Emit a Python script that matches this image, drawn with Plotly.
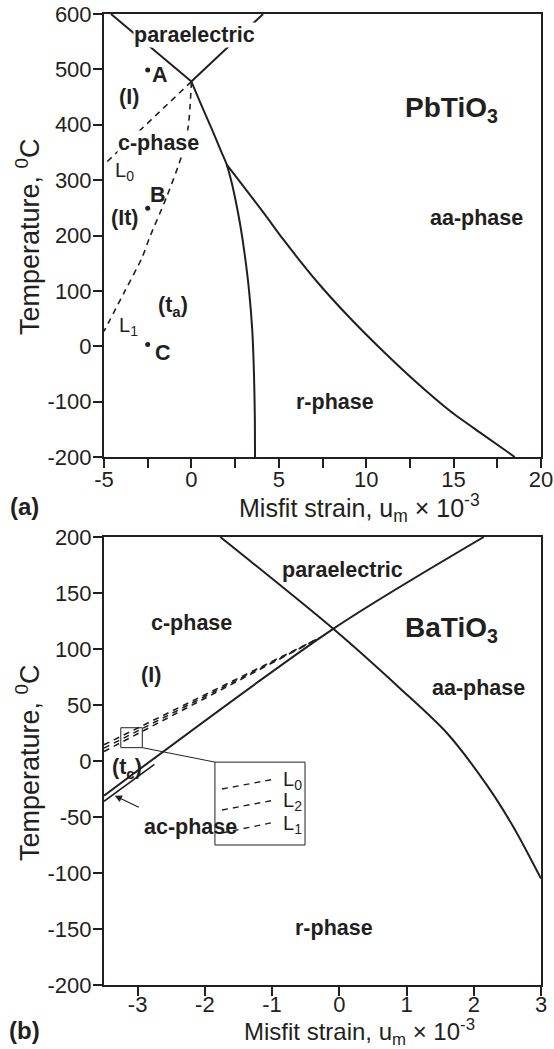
import plotly.graph_objects as go

FONT = "Liberation Sans, Arial, Helvetica, sans-serif"
INK = "#231f20"

# ---------------- (a) PbTiO3 ----------------
para_left_x = [-4.6, 0.0]
para_left_T = [600, 478]
para_right_x = [0.0, 4.1]
para_right_T = [478, 600]
c_r_x = [0.0, 0.6, 1.2, 1.7, 2.02, 2.3, 2.55, 2.8, 3.05, 3.3, 3.48, 3.58, 3.63, 3.64]
c_r_T = [478, 433, 390, 352, 328, 296, 260, 218, 166, 100, 30, -50, -130, -200]
r_aa_x = [2.02, 3.0, 4.2, 5.3, 7.2, 9.1, 11.0, 12.9, 14.8, 16.7, 18.5]
r_aa_T = [328, 288, 238, 191, 116, 50, -10, -66, -117, -160, -200]
L0a_x = [0.0, -5.0]
L0a_T = [478, 328]
L1a_x = [0.0, -0.18, -0.55, -1.41, -2.37, -2.84, -3.8, -5.0]
L1a_T = [478, 397, 345, 270, 198, 159, 100, 27]
pts_x = [-2.5, -2.5, -2.5]
pts_T = [499, 249, 3]

# ---------------- (b) BaTiO3 ----------------
desc_x = [-1.77, -0.09, 0.9, 1.6, 2.2, 2.6, 3.0]
desc_T = [200, 118, 65, 25, -22, -60, -105]
asc_x = [-3.5, -0.09, 2.15]
asc_T = [-31, 118, 200]
ac_x = [-3.5, -2.75]
ac_T = [-36, -3]
dash_end_x = -0.29
dash_end_T = 110
dash_start_T = {"L0": 14.5, "L2": 11.5, "L1": 8.5}

fig = go.Figure()

def line(x, y, xa, ya, dash="solid", w=2.0, shape="linear"):
    fig.add_trace(go.Scatter(x=x, y=y, mode="lines", xaxis=xa, yaxis=ya,
                             line=dict(color=INK, width=w, dash=dash, shape=shape,
                                       smoothing=0.8),
                             hoverinfo="skip", showlegend=False))

line(para_left_x, para_left_T, "x", "y")
line(para_right_x, para_right_T, "x", "y")
line(c_r_x, c_r_T, "x", "y", shape="spline")
line(r_aa_x, r_aa_T, "x", "y", shape="spline")
line(L0a_x, L0a_T, "x", "y", dash="6px,5px", w=1.6)
line(L1a_x, L1a_T, "x", "y", dash="6px,5px", w=1.6, shape="spline")
fig.add_trace(go.Scatter(x=pts_x, y=pts_T, mode="markers", xaxis="x", yaxis="y",
                         marker=dict(color=INK, size=5), hoverinfo="skip", showlegend=False))

line(desc_x, desc_T, "x2", "y2", shape="spline")
line(asc_x, asc_T, "x2", "y2", shape="spline")
line(ac_x, ac_T, "x2", "y2", w=1.6)
for k in ["L0", "L2", "L1"]:
    line([-3.5, dash_end_x], [dash_start_T[k], dash_end_T], "x2", "y2", dash="6px,5px", w=1.6)

# inset (zoom window) decoration
inset_small = dict(x0=-3.25, x1=-2.93, y0=11.9, y1=29.7)
inset_big = dict(x0=-1.85, x1=-0.51, y0=-75, y1=-1)
fig.add_shape(type="rect", xref="x2", yref="y2", line=dict(color=INK, width=1),
              fillcolor="rgba(0,0,0,0)", layer="above", **inset_small)
fig.add_shape(type="rect", xref="x2", yref="y2", line=dict(color=INK, width=1),
              fillcolor="white", layer="above", **inset_big)
fig.add_shape(type="line", xref="x2", yref="y2", x0=-2.93, y0=11.9, x1=-1.85, y1=-1,
              line=dict(color=INK, width=1))
inset_lines = {"L0": (-25, -16.1), "L2": (-43.75, -34.8), "L1": (-64.3, -54.5)}
for k, (ya, yb) in inset_lines.items():
    fig.add_shape(type="line", xref="x2", yref="y2", x0=-1.745, y0=ya, x1=-0.957, y1=yb,
                  line=dict(color=INK, width=1.4, dash="6px,5px"), layer="above")
    fig.add_annotation(x=-0.70, y=(ya + yb) / 2 + 3, xref="x2", yref="y2",
                       text=f"L<sub>{k[1]}</sub>", showarrow=False,
                       font=dict(size=20, color=INK, family=FONT))

def lab(x, y, t, xr="x", yr="y", size=21.5, bold=True, bg=None):
    fig.add_annotation(x=x, y=y, xref=xr, yref=yr, text=(f"<b>{t}</b>" if bold else t),
                       showarrow=False, font=dict(size=size, color=INK, family=FONT),
                       bgcolor=bg, borderpad=0)

lab(0.2, 562, "paraelectric", bg="white")
lab(-1.8, 490, "A")
lab(-3.55, 451, "(I)")
lab(-1.9, 367, "c-phase", bg="white")
lab(-3.8, 315, "L<sub>0</sub>", bold=False, size=20)
lab(-1.9, 273, "B")
lab(-3.8, 232, "(It)")
lab(-1.04, 72, "(t<sub>a</sub>)")
lab(-3.6, 35, "L<sub>1</sub>", bold=False, size=20)
lab(-1.6, -12, "C")
lab(14.9, 427, "PbTiO<sub>3</sub>", size=28)
lab(16.3, 231, "aa-phase")
lab(8.2, -100, "r-phase")

lab(0.04, 170.5, "paraelectric", "x2", "y2")
lab(-2.2, 123.5, "c-phase", "x2", "y2")
lab(-2.8, 77, "(I)", "x2", "y2")
lab(-3.16, -6.5, "(t<sub>c</sub>)", "x2", "y2")
lab(-2.22, -59, "ac-phase", "x2", "y2")
lab(1.67, 117, "BaTiO<sub>3</sub>", "x2", "y2", size=28)
lab(2.07, 65, "aa-phase", "x2", "y2")
lab(-0.08, -149, "r-phase", "x2", "y2")
fig.add_annotation(x=-3.34, y=-31, xref="x2", yref="y2", ax=-2.96, ay=-42,
                   axref="x2", ayref="y2", text="", showarrow=True,
                   arrowhead=2, arrowsize=1.2, arrowwidth=1.2, arrowcolor=INK)

xtitle = "Misfit strain, u<sub>m</sub> × 10<sup>-3</sup>"
ytitle = "Temperature, <sup>0</sup>C"

axis_common = dict(showline=True, mirror=True, linecolor=INK, linewidth=2,
                   ticks="outside", ticklen=9, tickwidth=2, tickcolor=INK,
                   showgrid=False, zeroline=False, automargin=False,
                   ticklabeloverflow="allow",
                   tickfont=dict(size=22, color=INK, family=FONT))

xa_vals = [-5, -2.5, 0, 2.5, 5, 7.5, 10, 12.5, 15, 17.5, 20]
xa_text = ["-5", "", "0", "", "5", "", "10", "", "15", "", "20"]
ya_vals = [-200, -100, 0, 100, 200, 300, 400, 500, 600]
ya_text = ["-200", "-100", "0", "100", "200", "300", "400", "500", "600"]
xb_vals = [-3, -2, -1, 0, 1, 2, 3]
xb_text = ["-3", "-2", "-1", "0", "1", "2", "3"]
yb_vals = [-200, -150, -100, -50, 0, 50, 100, 150, 200]
yb_text = ["-200", "-150", "-100", "-50", "0", "50", "100", "150", "200"]

W, H = 554, 1049
ml, mt = 104, 14
mr = W - 541
mb = H - 985
ph = H - mt - mb
pw = W - ml - mr

def py(win_y):
    return (H - mb - win_y) / ph

def pxx(win_x):
    return (win_x - ml) / pw

fig.update_layout(
    template="none",
    width=W, height=H, margin=dict(l=ml, r=mr, t=mt, b=mb, autoexpand=False),
    paper_bgcolor="white", plot_bgcolor="white",
    xaxis=dict(domain=[0, 1], range=[-5, 20], tickvals=xa_vals, ticktext=xa_text,
               anchor="y", ticklabelstandoff=-7, **axis_common),
    yaxis=dict(domain=[py(457), 1], range=[-200, 600], tickvals=ya_vals, ticktext=ya_text,
               anchor="x", ticklabelstandoff=-3, **axis_common),
    xaxis2=dict(domain=[0, 1], range=[-3.5, 3], tickvals=xb_vals, ticktext=xb_text,
                anchor="y2", ticklabelstandoff=-10, **axis_common),
    yaxis2=dict(domain=[0, py(537)], range=[-200, 200], tickvals=yb_vals, ticktext=yb_text,
                anchor="x2", ticklabelstandoff=-3, **axis_common),
)

def ptext(x, y, t, size=22, angle=0, bold=False):
    fig.add_annotation(x=pxx(x), y=py(y), xref="paper", yref="paper",
                       text=(f"<b>{t}</b>" if bold else t),
                       showarrow=False, textangle=angle, xanchor="center", yanchor="middle",
                       font=dict(size=size, color=INK, family=FONT))

ptext(359, 508, xtitle, size=25)
ptext(359, 1032, xtitle, size=24)
ptext(28, 237, ytitle, size=27, angle=-90)
ptext(28, 763, ytitle, size=27, angle=-90)
ptext(24, 506, "(a)", size=24, bold=True)
ptext(24, 1030, "(b)", size=24, bold=True)

fig.write_html("out.html", config={"displayModeBar": False},
               post_script="document.body.style.margin='0';")
